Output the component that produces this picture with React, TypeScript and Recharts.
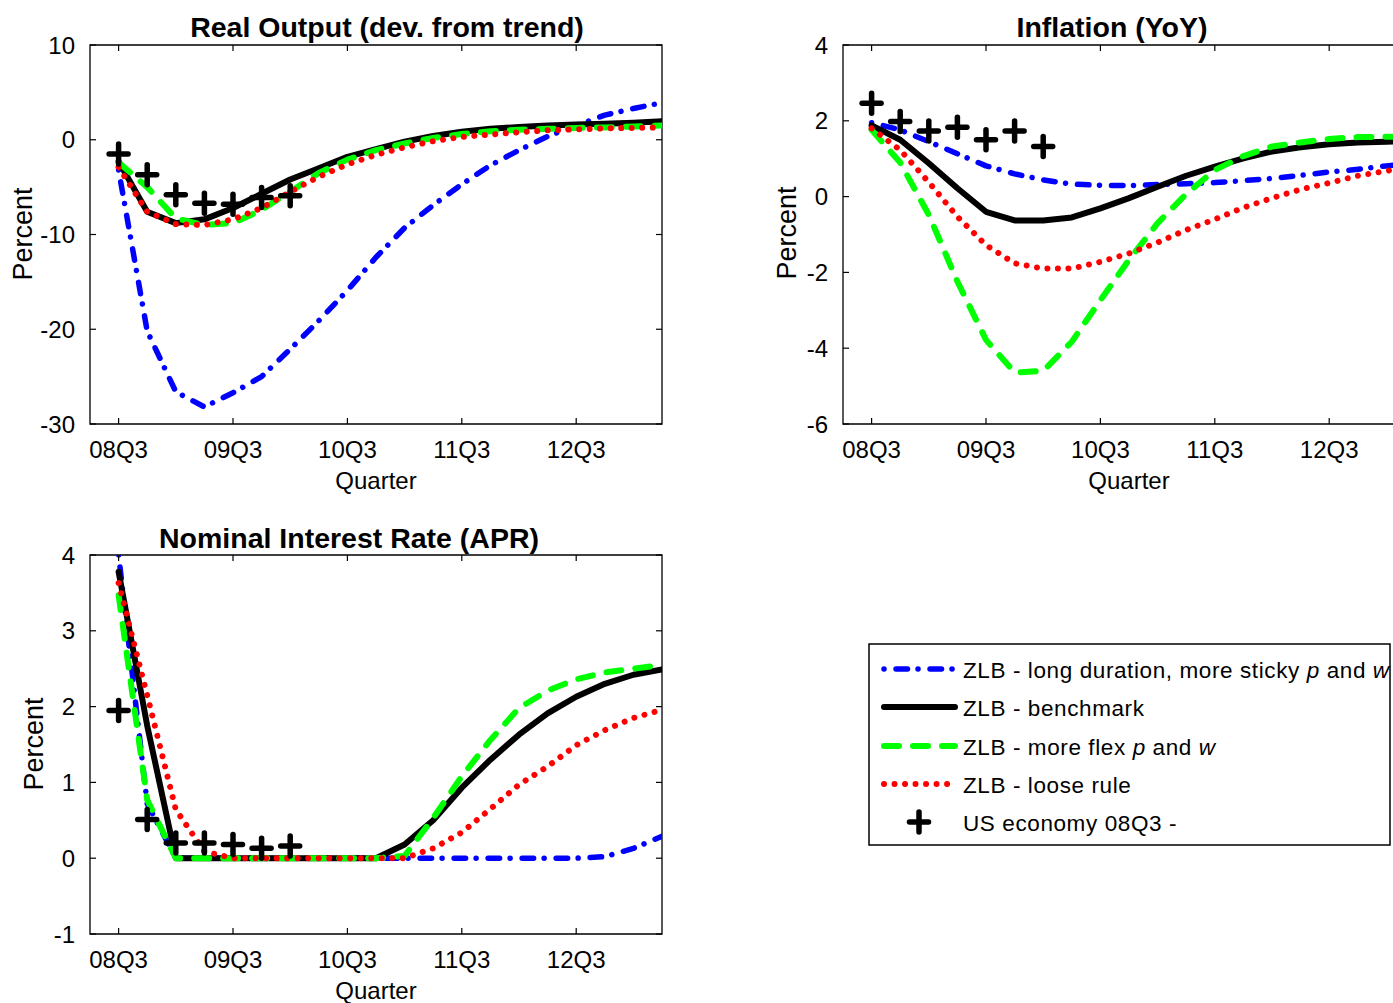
import { LineChart, Line, XAxis, YAxis, ReferenceArea } from 'recharts';

const FONT = "'Liberation Sans', Arial, sans-serif";

// quarters from 08Q3 onwards, x axis labels are every 4th quarter
const QUARTERS = [
  '08Q3', '08Q4', '09Q1', '09Q2', '09Q3', '09Q4', '10Q1', '10Q2', '10Q3', '10Q4',
  '11Q1', '11Q2', '11Q3', '11Q4', '12Q1', '12Q2', '12Q3', '12Q4', '13Q1', '13Q2',
];
const X_TICKS = [0, 4, 8, 12, 16];

// Real output (dev. from trend)
const OUT_LONG = [-3.2, -20.2, -26.6, -28.2, -26.7, -25.0, -22.1, -19.1, -15.9, -12.4, -9.3, -6.9, -4.7, -2.7, -1.1, 0.35, 1.5, 2.6, 3.3, 3.9];
const OUT_BENCH = [-2.3, -7.6, -8.8, -8.4, -7.2, -5.7, -4.2, -3.0, -1.8, -1.0, -0.2, 0.4, 0.85, 1.15, 1.35, 1.5, 1.6, 1.7, 1.8, 1.95];
const OUT_FLEX = [-2.4, -5.0, -8.3, -9.0, -8.8, -7.4, -5.5, -3.5, -2.1, -1.1, -0.4, 0.2, 0.6, 0.9, 1.05, 1.15, 1.25, 1.3, 1.4, 1.5];
const OUT_LOOSE = [-2.9, -7.6, -8.9, -9.0, -8.4, -7.2, -5.5, -3.9, -2.6, -1.6, -0.8, -0.15, 0.3, 0.55, 0.8, 1.0, 1.1, 1.2, 1.25, 1.3];
const OUT_US = [-1.5, -3.7, -5.8, -6.7, -6.8, -6.1, -5.9];

// Inflation (YoY)
const INF_LONG = [1.95, 1.76, 1.45, 1.13, 0.81, 0.6, 0.44, 0.33, 0.3, 0.29, 0.32, 0.34, 0.37, 0.42, 0.48, 0.56, 0.65, 0.72, 0.81, 0.88];
const INF_BENCH = [1.88, 1.5, 0.88, 0.22, -0.4, -0.63, -0.63, -0.55, -0.31, -0.04, 0.26, 0.55, 0.79, 1.01, 1.19, 1.3, 1.38, 1.43, 1.45, 1.47];
const INF_FLEX = [1.76, 0.9, -0.48, -2.24, -3.78, -4.64, -4.6, -3.83, -2.73, -1.67, -0.7, 0.07, 0.7, 1.07, 1.32, 1.43, 1.52, 1.57, 1.58, 1.59];
const INF_LOOSE = [1.8, 1.23, 0.38, -0.53, -1.28, -1.76, -1.9, -1.9, -1.72, -1.5, -1.21, -0.88, -0.6, -0.29, -0.04, 0.19, 0.36, 0.55, 0.68, 0.78];
const INF_US = [2.46, 1.98, 1.73, 1.83, 1.5, 1.73, 1.32];

// Nominal interest rate (APR)
const RATE_LONG = [4.0, 0.72, 0, 0, 0, 0, 0, 0, 0, 0, 0, 0, 0, 0, 0, 0, 0, 0.02, 0.13, 0.29];
const RATE_BENCH = [3.78, 1.75, 0, 0, 0, 0, 0, 0, 0, 0, 0.18, 0.5, 0.93, 1.3, 1.63, 1.91, 2.13, 2.3, 2.42, 2.49];
const RATE_FLEX = [3.47, 0.77, 0, 0, 0, 0, 0, 0, 0, 0, 0.03, 0.53, 1.08, 1.56, 1.98, 2.21, 2.36, 2.45, 2.5, 2.55];
const RATE_LOOSE = [3.63, 2.15, 0.64, 0.09, 0, 0, 0, 0, 0, 0, 0, 0.13, 0.34, 0.65, 0.97, 1.21, 1.49, 1.69, 1.85, 1.96];
const RATE_US = [1.95, 0.51, 0.2, 0.2, 0.18, 0.13, 0.16];

const OUT_TICKS = [-30, -20, -10, 0, 10];
const INF_TICKS = [-6, -4, -2, 0, 2, 4];
const RATE_TICKS = [-1, 0, 1, 2, 3, 4];

function buildRows(long: number[], bench: number[], flex: number[], loose: number[], us: number[]) {
  return QUARTERS.map((q, i) => ({
    idx: i,
    quarter: q,
    long: long[i],
    bench: bench[i],
    flex: flex[i],
    loose: loose[i],
    us: i < us.length ? us[i] : null,
  }));
}

// plot box inside every chart (local coords)
const PL = 90;
const PR = 662;
const PT = 45;
const PB = 424;

function XTick(props: any) {
  const { x, payload } = props;
  return (
    <g>
      <line x1={x} x2={x} y1={PB} y2={PB - 6} stroke="#000" strokeWidth={1.2} />
      <line x1={x} x2={x} y1={PT} y2={PT + 6} stroke="#000" strokeWidth={1.2} />
      <text x={x} y={PB + 34} textAnchor="middle" fontSize={24} fontFamily={FONT} fill="#000">
        {QUARTERS[payload.value]}
      </text>
    </g>
  );
}

function YTick(props: any) {
  const { y, payload } = props;
  return (
    <g>
      <line x1={PL} x2={PL + 6} y1={y} y2={y} stroke="#000" strokeWidth={1.2} />
      <line x1={PR} x2={PR - 6} y1={y} y2={y} stroke="#000" strokeWidth={1.2} />
      <text x={PL - 15} y={y + 8.5} textAnchor="end" fontSize={24} fontFamily={FONT} fill="#000">
        {payload.value}
      </text>
    </g>
  );
}

function PlusDot(props: any) {
  const { cx, cy, value, index } = props;
  if (cx == null || cy == null || value == null) return <g key={`p-${index}`} />;
  return (
    <g key={`p-${index}`}>
      <line x1={cx - 9.5} x2={cx + 9.5} y1={cy} y2={cy} stroke="#000" strokeWidth={5.5} strokeLinecap="round" />
      <line x1={cx} x2={cx} y1={cy - 10} y2={cy + 10} stroke="#000" strokeWidth={5.5} strokeLinecap="round" />
    </g>
  );
}

const STYLES = {
  long: { stroke: '#0000ff', strokeWidth: 5.5, strokeDasharray: '0.01 12 11.5 10.5' },
  bench: { stroke: '#000000', strokeWidth: 6, strokeDasharray: undefined },
  flex: { stroke: '#00ff00', strokeWidth: 6, strokeDasharray: '15 14' },
  loose: { stroke: '#ff0000', strokeWidth: 6, strokeDasharray: '0.01 10.5' },
};

function Panel({ left, top, rows, domain, ticks }: any) {
  return (
    <div style={{ position: 'absolute', left: left - PL, top: top - PT }}>
      <LineChart width={700} height={520} data={rows} margin={{ top: PT, right: 700 - PR, bottom: 520 - PB - 40, left: PL - 60 }}>
        <XAxis
          type="number"
          dataKey="idx"
          domain={[-1, 19]}
          ticks={X_TICKS}
          interval={0}
          allowDataOverflow
          axisLine={false}
          tickLine={false}
          height={40}
          tick={(p: any) => <XTick {...p} />}
        />
        <YAxis
          type="number"
          domain={domain}
          ticks={ticks}
          interval={0}
          allowDataOverflow
          axisLine={false}
          tickLine={false}
          width={60}
          tick={(p: any) => <YTick {...p} />}
        />
        <ReferenceArea x1={-1} x2={19} y1={domain[0]} y2={domain[1]} fill="none" stroke="#000" strokeWidth={1.3} />
        {(['long', 'bench', 'flex', 'loose'] as const).map((k) => (
          <Line
            key={k}
            type="linear"
            dataKey={k}
            stroke={STYLES[k].stroke}
            strokeWidth={STYLES[k].strokeWidth}
            strokeDasharray={STYLES[k].strokeDasharray}
            strokeLinecap="round"
            strokeLinejoin="round"
            dot={false}
            activeDot={false}
            isAnimationActive={false}
          />
        ))}
        <Line
          type="linear"
          dataKey="us"
          stroke="none"
          dot={(p: any) => <PlusDot {...p} />}
          activeDot={false}
          connectNulls={false}
          isAnimationActive={false}
        />
      </LineChart>
    </div>
  );
}

function Texts() {
  const title = { fontSize: 28.5, fontWeight: 700, fontFamily: FONT, textAnchor: 'middle' as const };
  const lab = { fontSize: 24, fontFamily: FONT, textAnchor: 'middle' as const };
  const pct = { fontSize: 27, fontFamily: FONT, textAnchor: 'middle' as const };
  return (
    <svg width={1393} height={1003} style={{ position: 'absolute', left: 0, top: 0 }}>
      <text x={387} y={37} {...title}>Real Output (dev. from trend)</text>
      <text x={1112} y={37} {...title}>Inflation (YoY)</text>
      <text x={349} y={548} {...title}>Nominal Interest Rate (APR)</text>
      <text x={376} y={489} {...lab}>Quarter</text>
      <text x={1129} y={489} {...lab}>Quarter</text>
      <text x={376} y={999} {...lab}>Quarter</text>
      <text x={32} y={234} transform="rotate(-90 32 234)" {...pct}>Percent</text>
      <text x={796} y={233} transform="rotate(-90 796 233)" {...pct}>Percent</text>
      <text x={43} y={744} transform="rotate(-90 43 744)" {...pct}>Percent</text>
    </svg>
  );
}

function LegendBox() {
  const rowY = [26, 64, 103, 141, 179];
  const txt = { fontSize: 22.5, fontFamily: FONT, letterSpacing: 0.6 };
  const it = { fontStyle: 'italic' as const };
  return (
    <svg width={525} height={205} style={{ position: 'absolute', left: 868, top: 643 }}>
      <rect x={1} y={1} width={521} height={201} fill="#fff" stroke="#000" strokeWidth={1.5} />
      {(['long', 'bench', 'flex', 'loose'] as const).map((k, i) => (
        <line
          key={k}
          x1={16}
          x2={87}
          y1={rowY[i]}
          y2={rowY[i]}
          stroke={STYLES[k].stroke}
          strokeWidth={STYLES[k].strokeWidth}
          strokeDasharray={STYLES[k].strokeDasharray}
          strokeLinecap="round"
        />
      ))}
      <PlusDot cx={51} cy={rowY[4]} value={1} index={99} />
      <text x={95} y={rowY[0] + 9} {...txt}>
        ZLB - long duration, more sticky <tspan {...it}>p</tspan> and <tspan {...it}>w</tspan>
      </text>
      <text x={95} y={rowY[1] + 9} {...txt}>ZLB - benchmark</text>
      <text x={95} y={rowY[2] + 9} {...txt}>
        ZLB - more flex  <tspan {...it}>p</tspan> and <tspan {...it}>w</tspan>
      </text>
      <text x={95} y={rowY[3] + 9} {...txt}>ZLB - loose rule</text>
      <text x={95} y={rowY[4] + 9} {...txt}>US economy 08Q3 -</text>
    </svg>
  );
}

export default function App() {
  const outRows = buildRows(OUT_LONG, OUT_BENCH, OUT_FLEX, OUT_LOOSE, OUT_US);
  const infRows = buildRows(INF_LONG, INF_BENCH, INF_FLEX, INF_LOOSE, INF_US);
  const rateRows = buildRows(RATE_LONG, RATE_BENCH, RATE_FLEX, RATE_LOOSE, RATE_US);
  return (
    <div
      style={{
        position: 'fixed',
        left: 0,
        top: 0,
        width: 1393,
        height: 1003,
        overflow: 'hidden',
        background: '#fff',
        fontFamily: FONT,
      }}
    >
      <Texts />
      <Panel left={90} top={45} rows={outRows} domain={[-30, 10]} ticks={OUT_TICKS} />
      <Panel left={843} top={45} rows={infRows} domain={[-6, 4]} ticks={INF_TICKS} />
      <Panel left={90} top={555} rows={rateRows} domain={[-1, 4]} ticks={RATE_TICKS} />
      <LegendBox />
    </div>
  );
}
